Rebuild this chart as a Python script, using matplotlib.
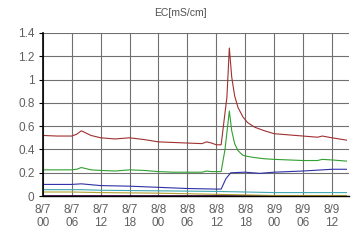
import matplotlib.pyplot as plt

plt.rcParams['font.family'] = ['Liberation Sans', 'DejaVu Sans']

# hours since 8/7 00:00
tick_hours = [0, 6, 12, 18, 24, 30, 36, 42, 48, 54, 60]
tick_labels = ['8/7\n00', '8/7\n06', '8/7\n12', '8/7\n18', '8/8\n00', '8/8\n06',
               '8/8\n12', '8/8\n18', '8/9\n00', '8/9\n06', '8/9\n12']

red_t = [0, 3, 6, 7, 8, 9, 10, 12, 15, 18, 21, 24, 27, 30, 33, 34, 35, 36, 37,
         38.2, 38.7, 39.2, 39.8, 40.5, 41.5, 42.5, 44, 46, 48, 51, 54, 57, 58, 60, 63]
red_v = [0.52, 0.515, 0.515, 0.53, 0.56, 0.54, 0.52, 0.50, 0.49, 0.50, 0.485, 0.465, 0.46, 0.455, 0.45, 0.465, 0.455, 0.44, 0.44,
         0.85, 1.27, 1.02, 0.86, 0.76, 0.68, 0.63, 0.59, 0.56, 0.535, 0.525, 0.515, 0.505, 0.515, 0.50, 0.48]

green_t = [0, 3, 6, 7, 8, 9, 10, 12, 15, 18, 21, 24, 27, 30, 33, 34, 35, 36, 37,
           37.8, 38.7, 39.2, 39.8, 40.5, 41.5, 42.5, 44, 46, 48, 51, 54, 57, 58, 60, 63]
green_v = [0.225, 0.225, 0.225, 0.23, 0.245, 0.235, 0.225, 0.22, 0.215, 0.225, 0.22, 0.21, 0.205, 0.205, 0.205, 0.215, 0.21, 0.21, 0.21,
           0.40, 0.73, 0.56, 0.45, 0.39, 0.35, 0.34, 0.33, 0.32, 0.315, 0.31, 0.305, 0.305, 0.315, 0.31, 0.30]

blue_t = [0, 6, 8, 12, 18, 24, 30, 36, 37, 38, 39, 42, 45, 48, 54, 60, 63]
blue_v = [0.10, 0.10, 0.105, 0.09, 0.085, 0.075, 0.065, 0.06, 0.06, 0.15, 0.20, 0.205, 0.195, 0.205, 0.215, 0.23, 0.23]

cyan_t = [0, 8, 12, 24, 36, 42, 48, 63]
cyan_v = [0.055, 0.055, 0.05, 0.045, 0.04, 0.035, 0.03, 0.03]

olive_t = [0, 6, 12, 24, 36, 42, 48, 63]
olive_v = [0.035, 0.035, 0.03, 0.025, 0.015, 0.01, 0.005, 0.005]

purple_t = [0, 63]
purple_v = [0.002, 0.002]

fig = plt.figure(figsize=(3.6, 2.4), dpi=100)
ax = fig.add_axes([0.119, 0.183, 0.850, 0.680])

ax.plot(purple_t, purple_v, color='#3a0040', lw=1.2)
ax.plot(olive_t, olive_v, color='#b0a030', lw=0.8)
ax.plot(cyan_t, cyan_v, color='#40a8b0', lw=0.8)
ax.plot(blue_t, blue_v, color='#3030a8', lw=0.8)
ax.plot(green_t, green_v, color='#30a030', lw=0.8)
ax.plot(red_t, red_v, color='#a03030', lw=0.8)

ax.set_xlim(0, 63.5)
ax.set_ylim(0, 1.4)
ax.set_xticks(tick_hours)
ax.set_xticklabels(tick_labels)
ax.set_yticks([0, 0.2, 0.4, 0.6, 0.8, 1, 1.2, 1.4])
ax.set_yticklabels(['0', '0.2', '0.4', '0.6', '0.8', '1', '1.2', '1.4'])
ax.grid(True, color='#707070', lw=0.8)
ax.set_axisbelow(True)
for s in ['top', 'right']:
    ax.spines[s].set_visible(False)
ax.spines['left'].set_linewidth(1.2)
ax.spines['bottom'].set_linewidth(1.0)
ax.tick_params(axis='y', length=3, labelsize=8.5, labelcolor='#606060', pad=3)
ax.tick_params(axis='x', length=0, labelsize=8.5, labelcolor='#606060', pad=6)
for lbl in ax.get_xticklabels():
    lbl.set_linespacing(1.05)

fig.text(0.5, 0.945, 'EC[mS/cm]', ha='center', va='center', fontsize=7.5, color='#505050')

fig.savefig('out.png')
